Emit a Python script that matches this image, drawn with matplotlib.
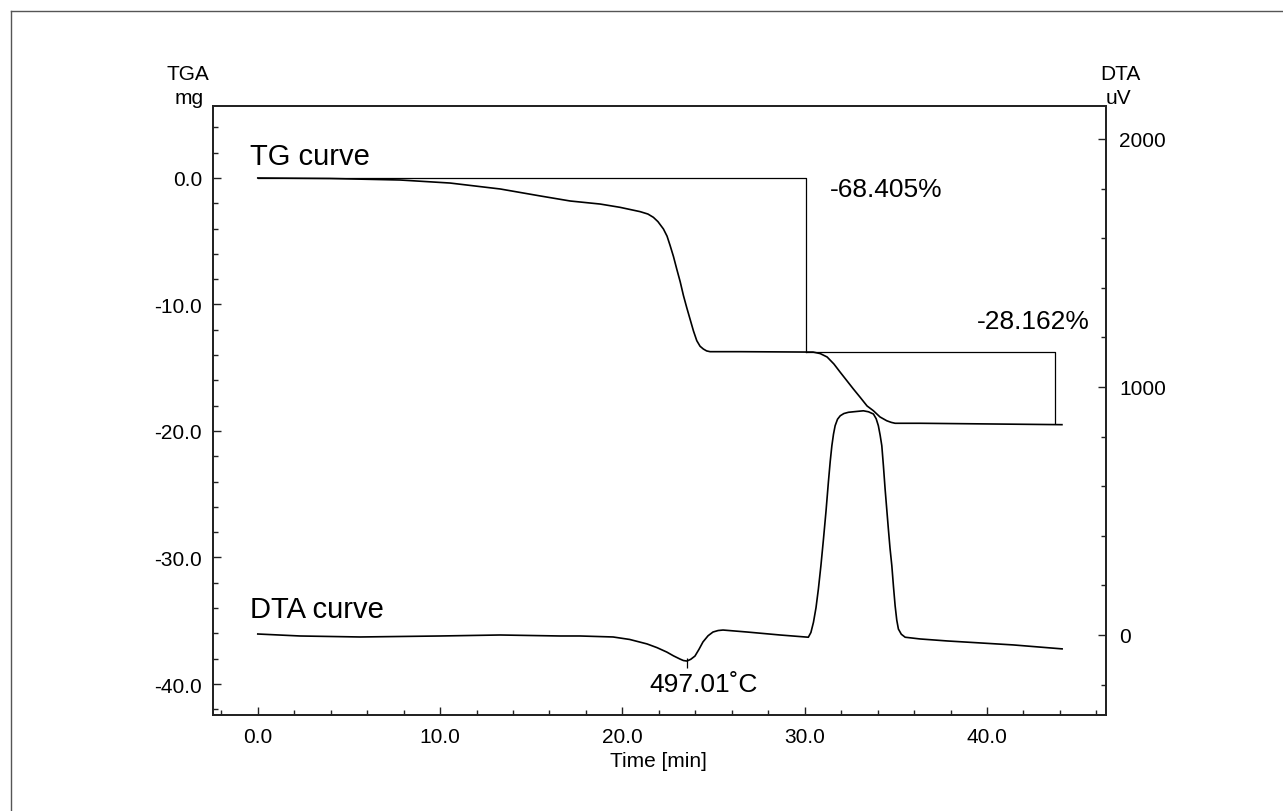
import matplotlib
matplotlib.use("Agg")
import matplotlib.pyplot as plt
from matplotlib.ticker import MultipleLocator, FormatStrFormatter
from matplotlib.lines import Line2D

plt.rcParams['font.family'] = ['Liberation Sans', 'DejaVu Sans']

# ---- data ----
tg_time = [0.0, 3.97, 7.81, 10.55, 13.30, 15.49, 17.14, 18.78, 19.87, 20.97, 21.40,
           21.70, 21.95, 22.25, 22.45, 22.62, 22.80, 22.98, 23.17, 23.35, 23.53,
           23.71, 23.90, 24.08, 24.26, 24.44, 24.62, 24.81, 26.45, 30.08,
           30.46, 30.85, 31.23, 31.60, 31.94, 32.30, 32.67, 33.05, 33.42, 33.77,
           34.13, 34.50, 34.75, 34.96, 36.33, 44.11]
tg_mass = [0.0, -0.04, -0.16, -0.40, -0.87, -1.42, -1.82, -2.06, -2.32, -2.66, -2.85,
           -3.11, -3.45, -4.03, -4.60, -5.35, -6.20, -7.19, -8.20, -9.30, -10.25,
           -11.15, -12.10, -12.86, -13.30, -13.52, -13.67, -13.73, -13.73, -13.76,
           -13.76, -13.88, -14.15, -14.70, -15.34, -16.00, -16.68, -17.35, -18.02, -18.40,
           -18.89, -19.19, -19.32, -19.39, -19.39, -19.50]

dta_time = [0.0, 2.32, 5.61, 10.0, 13.29, 16.58, 17.68, 19.49, 20.40, 21.35, 21.90,
            22.44, 22.80, 23.16, 23.35, 23.54, 23.75, 23.98, 24.20, 24.42, 24.70,
            24.97, 25.25, 25.52, 26.84, 28.65, 30.20, 30.34, 30.48, 30.62, 30.75,
            30.89, 31.03, 31.17, 31.30, 31.40, 31.49, 31.58, 31.67, 31.80, 31.95,
            32.15, 32.40, 32.80, 33.22, 33.50, 33.77, 33.92, 34.04, 34.14, 34.23,
            34.32, 34.41, 34.50, 34.59, 34.68, 34.78, 34.87, 34.96, 35.05, 35.14,
            35.30, 35.51, 36.33, 37.81, 41.43, 44.12]
dta_uv = [4, -4, -8, -4, 0, -4, -4, -8, -18, -36, -51,
          -69, -84, -97, -103, -105, -98, -85, -58, -28, -3,
          12, 18, 20, 12, 0, -9, 10, 51, 110, 185,
          280, 387, 500, 617, 700, 763, 810, 844, 870, 884,
          893, 898, 901, 904, 900, 891, 872, 844, 805, 763,
          680, 589, 508, 427, 350, 279, 195, 118, 60, 24,
          3, -9, -16, -24, -40, -56]

# step analysis (weight-loss steps)
step1_x = [0.0, 30.05, 30.05]
step1_y = [0.0, 0.0, -13.73]
step2_x = [30.05, 43.74, 43.74]
step2_y = [-13.73, -13.73, -19.39]
step1_label = "-68.405%"
step2_label = "-28.162%"
peak_time = 23.54
peak_uv = -105
peak_label = "497.01\u02daC"

x_ticks = [0.0, 10.0, 20.0, 30.0, 40.0]
left_ticks = [0.0, -10.0, -20.0, -30.0, -40.0]
right_ticks = [0, 1000, 2000]

# ---- figure ----
W, H = 1283, 812
fig = plt.figure(figsize=(W / 100, H / 100), dpi=100)
ax = fig.add_axes([213.3 / W, (H - 716) / H, (1105.5 - 213.3) / W, (716 - 107) / H])
ax2 = ax.twinx()

lc = 'black'
ax.plot(tg_time, tg_mass, color=lc, lw=1.2)
ax.plot(step1_x, step1_y, color=lc, lw=0.9)
ax.plot(step2_x, step2_y, color=lc, lw=0.9)
ax2.plot(dta_time, dta_uv, color=lc, lw=1.2)
ax2.plot([peak_time], [peak_uv - 8], marker='|', color=lc, ms=7, mew=0.9)

ax.set_xlim(-2.44, 46.5)
ax.set_ylim(-42.45, 5.69)
ax2.set_ylim(-322.6, 2133)

ax.set_xticks(x_ticks)
ax.set_yticks(left_ticks)
ax2.set_yticks(right_ticks)
ax.xaxis.set_minor_locator(MultipleLocator(2))
ax.yaxis.set_minor_locator(MultipleLocator(2))
ax2.yaxis.set_minor_locator(MultipleLocator(200))
ax.xaxis.set_major_formatter(FormatStrFormatter('%.1f'))
ax.yaxis.set_major_formatter(FormatStrFormatter('%.1f'))

fs = 15
spc = '#222222'
for a in (ax, ax2):
    for s in a.spines.values():
        s.set_color(spc)
        s.set_linewidth(1.3)
ax.tick_params(axis='both', which='major', direction='in', length=6, width=1.0,
               color=spc, labelsize=fs, pad=8)
ax.tick_params(axis='both', which='minor', direction='in', length=3.5, width=1.0, color=spc)
ax.tick_params(axis='x', which='major', pad=9)
ax2.tick_params(axis='y', which='major', direction='in', length=6, width=1.0,
                color=spc, labelsize=fs, pad=10)
ax2.tick_params(axis='y', which='minor', direction='in', length=3.5, width=1.0, color=spc)

# axis titles
fig.text(188 / W, 1 - 75 / H, "TGA", ha='center', va='center', fontsize=fs)
fig.text(189 / W, 1 - 98 / H, "mg", ha='center', va='center', fontsize=fs)
fig.text(1120 / W, 1 - 75 / H, "DTA", ha='center', va='center', fontsize=fs)
fig.text(1118 / W, 1 - 98 / H, "uV", ha='center', va='center', fontsize=fs)
fig.text(658 / W, 1 - 762 / H, "Time [min]", ha='center', va='center', fontsize=fs)

# annotations
big = 21
ax.text(-0.45, 1.7, "TG curve", ha='left', va='center', fontsize=big)
ax.text(-0.45, -34.1, "DTA curve", ha='left', va='center', fontsize=big)
ax.text(31.4, -0.85, step1_label, ha='left', va='center', fontsize=19)
ax.text(39.45, -11.3, step2_label, ha='left', va='center', fontsize=19)
ax.text(21.5, -40.0, peak_label, ha='left', va='center', fontsize=19)

# outer frame (left and top edges)
fc = '#555555'
fig.add_artist(Line2D([10.5 / W, 10.5 / W], [0, 1 - 12 / H], color=fc, lw=1.0))
fig.add_artist(Line2D([10.5 / W, 1.0], [1 - 12 / H, 1 - 12 / H], color=fc, lw=1.0))

fig.savefig("out.png", dpi=100)
